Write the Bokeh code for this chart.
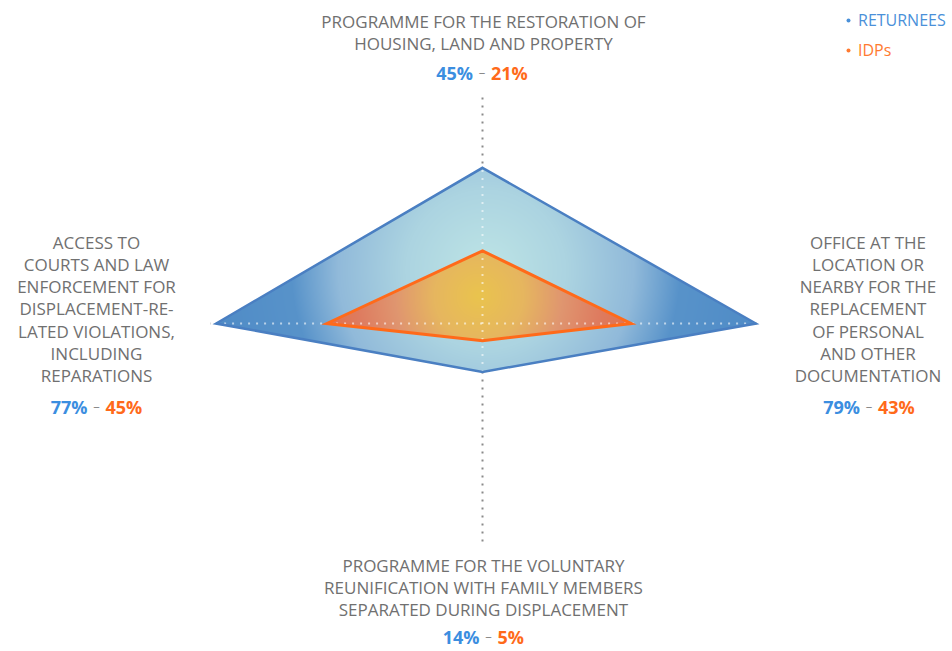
import numpy as np
from bokeh.plotting import figure
from bokeh.models import Range1d
from bokeh.core.properties import value
from bokeh.embed import file_html
from bokeh.resources import INLINE

# ---------------- data ----------------
categories = [
    ["PROGRAMME FOR THE RESTORATION OF", "HOUSING, LAND AND PROPERTY"],
    ["OFFICE AT THE", "LOCATION OR", "NEARBY FOR THE", "REPLACEMENT",
     "OF PERSONAL", "AND OTHER", "DOCUMENTATION"],
    ["PROGRAMME FOR THE VOLUNTARY", "REUNIFICATION WITH FAMILY MEMBERS",
     "SEPARATED DURING DISPLACEMENT"],
    ["ACCESS TO", "COURTS AND LAW", "ENFORCEMENT FOR", "DISPLACEMENT-RE-",
     "LATED VIOLATIONS,", "INCLUDING", "REPARATIONS"],
]
angles_deg = [90, 0, 270, 180]          # top, right, bottom, left
returnees = [45, 79, 14, 77]
idps = [21, 43, 5, 45]
series_names = ["RETURNEES", "IDPs"]

# ---------------- layout helpers ----------------
W, H = 950, 651
S = 3.46                      # pixels per percentage point
CX, CY = 482, 323             # page pixel of radar centre
OFF = 0
TFIX = -6.5                   # baseline correction for text glyphs


def dx(px):
    return (px - CX) / S


def dy(py):
    return (CY - py) / S


def ty(py):
    return dy(py + TFIX)


th = np.deg2rad(angles_deg)
rx = np.round(np.array(returnees) * np.cos(th), 9)
ry = np.round(np.array(returnees) * np.sin(th), 9)
ix = np.round(np.array(idps) * np.cos(th), 9)
iy = np.round(np.array(idps) * np.sin(th), 9)

p = figure(width=W, height=H, output_backend="svg", toolbar_location=None,
           x_range=Range1d(dx(OFF), dx(OFF + W)),
           y_range=Range1d(dy(OFF + H), dy(OFF)),
           min_border=0, outline_line_color=None)
p.axis.visible = False
p.grid.visible = False
p.background_fill_color = "white"
p.border_fill_color = "white"

# ---------------- axis lines (grey dotted) ----------------
axis_len = [67, 79.5, 63, 78.7]
for a, L in zip(th, axis_len):
    p.line([0, L * np.cos(a)], [0, L * np.sin(a)], line_color="#8a8a8a",
           line_width=2, line_dash="2 6")

# ---------------- gradient fills (rendered as an image) ----------------
def inside(px, py, xs, ys):
    n = len(xs)
    res = np.zeros(px.shape, dtype=bool)
    j = n - 1
    for i in range(n):
        xi, yi, xj, yj = xs[i], ys[i], xs[j], ys[j]
        cond = ((yi > py) != (yj > py))
        with np.errstate(divide="ignore", invalid="ignore"):
            xint = (xj - xi) * (py - yi) / (yj - yi + 1e-12) + xi
        res ^= cond & (px < xint)
        j = i
    return res


def grad(t, stops, cols):
    cols = np.array(cols, dtype=float)
    return np.stack([np.interp(t, stops, cols[:, k]) for k in range(3)], axis=-1)


x0, x1 = rx.min() - 1, rx.max() + 1
y0, y1 = ry.min() - 1, ry.max() + 1
nx = int(np.ceil((x1 - x0) * S))
ny = int(np.ceil((y1 - y0) * S))
gx = x0 + (np.arange(nx) + 0.5) / S
gy = y0 + (np.arange(ny) + 0.5) / S
GX, GY = np.meshgrid(gx, gy)

img = np.zeros((ny, nx, 4), dtype=np.uint8)

bcx, bcy = (rx.max() + rx.min()) / 2, (ry.max() + ry.min()) / 2
br = (rx.max() - rx.min()) / 2
tb = np.sqrt((GX - bcx) ** 2 + (GY - bcy) ** 2) / br
blue = grad(tb, [0, 0.3, 0.55, 0.72, 1.0],
            [(190, 229, 230), (172, 212, 225), (145, 186, 218), (88, 147, 202), (80, 140, 199)])
ocx, ocy = (ix.max() + ix.min()) / 2, (iy.max() + iy.min()) / 2
orr = (ix.max() - ix.min()) / 2
to = np.sqrt((GX - ocx) ** 2 + (GY - ocy) ** 2) / orr
orange = grad(to, [0, 0.3, 0.55, 0.8, 1.0],
              [(234, 196, 78), (230, 182, 96), (224, 150, 112), (222, 124, 96), (228, 114, 76)])

inb = inside(GX, GY, rx, ry)
ino = inside(GX, GY, ix, iy)
rgb = np.where(ino[..., None], orange, blue)
img[..., :3] = np.clip(rgb, 0, 255).astype(np.uint8)
img[..., 3] = np.where(inb | ino, 255, 0).astype(np.uint8)
img32 = img.view(dtype=np.uint32).reshape((ny, nx))
p.image_rgba(image=[img32], x=x0, y=y0, dw=nx / S, dh=ny / S)

# light dotted axis lines across the filled area
p.line([rx[3], rx[1]], [0, 0], line_color="white", line_alpha=0.6, line_width=2, line_dash="2 6")
p.line([0, 0], [ry[2], ry[0]], line_color="white", line_alpha=0.6, line_width=2, line_dash="2 6")

# outlines
p.patch(list(rx), list(ry), fill_color=None, line_color="#4a7fc2", line_width=2.5,
        line_join="miter")
p.patch(list(ix), list(iy), fill_color=None, line_color="#ff6a1a", line_width=3,
        line_join="miter")

# ---------------- labels ----------------
FONT = value("Open Sans")
GREY = "#707070"
BLUE = "#3b8ee0"
ORANGE = "#ff6a1a"

# (centre x, first-line baseline, number baseline, dash x) in page pixels
label_pos = [
    (483, 27, 79, 481.5),
    (867.5, 248, 413, 868.5),
    (483, 571, 643, 488),
    (96, 248, 413, 96),
]
STEP = 22.3

for lines, (cx, by, nby, dashx), rv, iv in zip(categories, label_pos, returnees, idps):
    xs = [dx(cx)] * len(lines)
    ys = [ty(by + k * STEP) for k in range(len(lines))]
    p.text(x=xs, y=ys, text=lines, text_font=FONT, text_font_size="17px",
           text_color=GREY, text_align="center", text_baseline="alphabetic")
    p.text(x=[dx(dashx)], y=[ty(nby - 1)], text=["–"], text_font=FONT,
           text_font_size="13px", text_color="#8a8a8a", text_align="center",
           text_baseline="alphabetic")
    p.text(x=[dx(dashx - 9)], y=[ty(nby)], text=[f"{rv}%"], text_font=FONT,
           text_font_size="18px", text_font_style="bold", text_color=BLUE,
           text_align="right", text_baseline="alphabetic")
    p.text(x=[dx(dashx + 9)], y=[ty(nby)], text=[f"{iv}%"], text_font=FONT,
           text_font_size="18px", text_font_style="bold", text_color=ORANGE,
           text_align="left", text_baseline="alphabetic")

# ---------------- legend ----------------
leg_cols = ["#4a90d9", "#ff7a30"]
leg_y = [26, 56]
for name, col, ly in zip(series_names, leg_cols, leg_y):
    p.scatter([dx(848)], [dy(ly - 6)], size=4, marker="circle", fill_color=col,
              line_color=None)
    p.text(x=[dx(857.5)], y=[ty(ly)], text=[name], text_font=FONT,
           text_font_size="16px", text_color=col, text_align="left",
           text_baseline="alphabetic")

open("out.html", "w").write(file_html(p, INLINE))
